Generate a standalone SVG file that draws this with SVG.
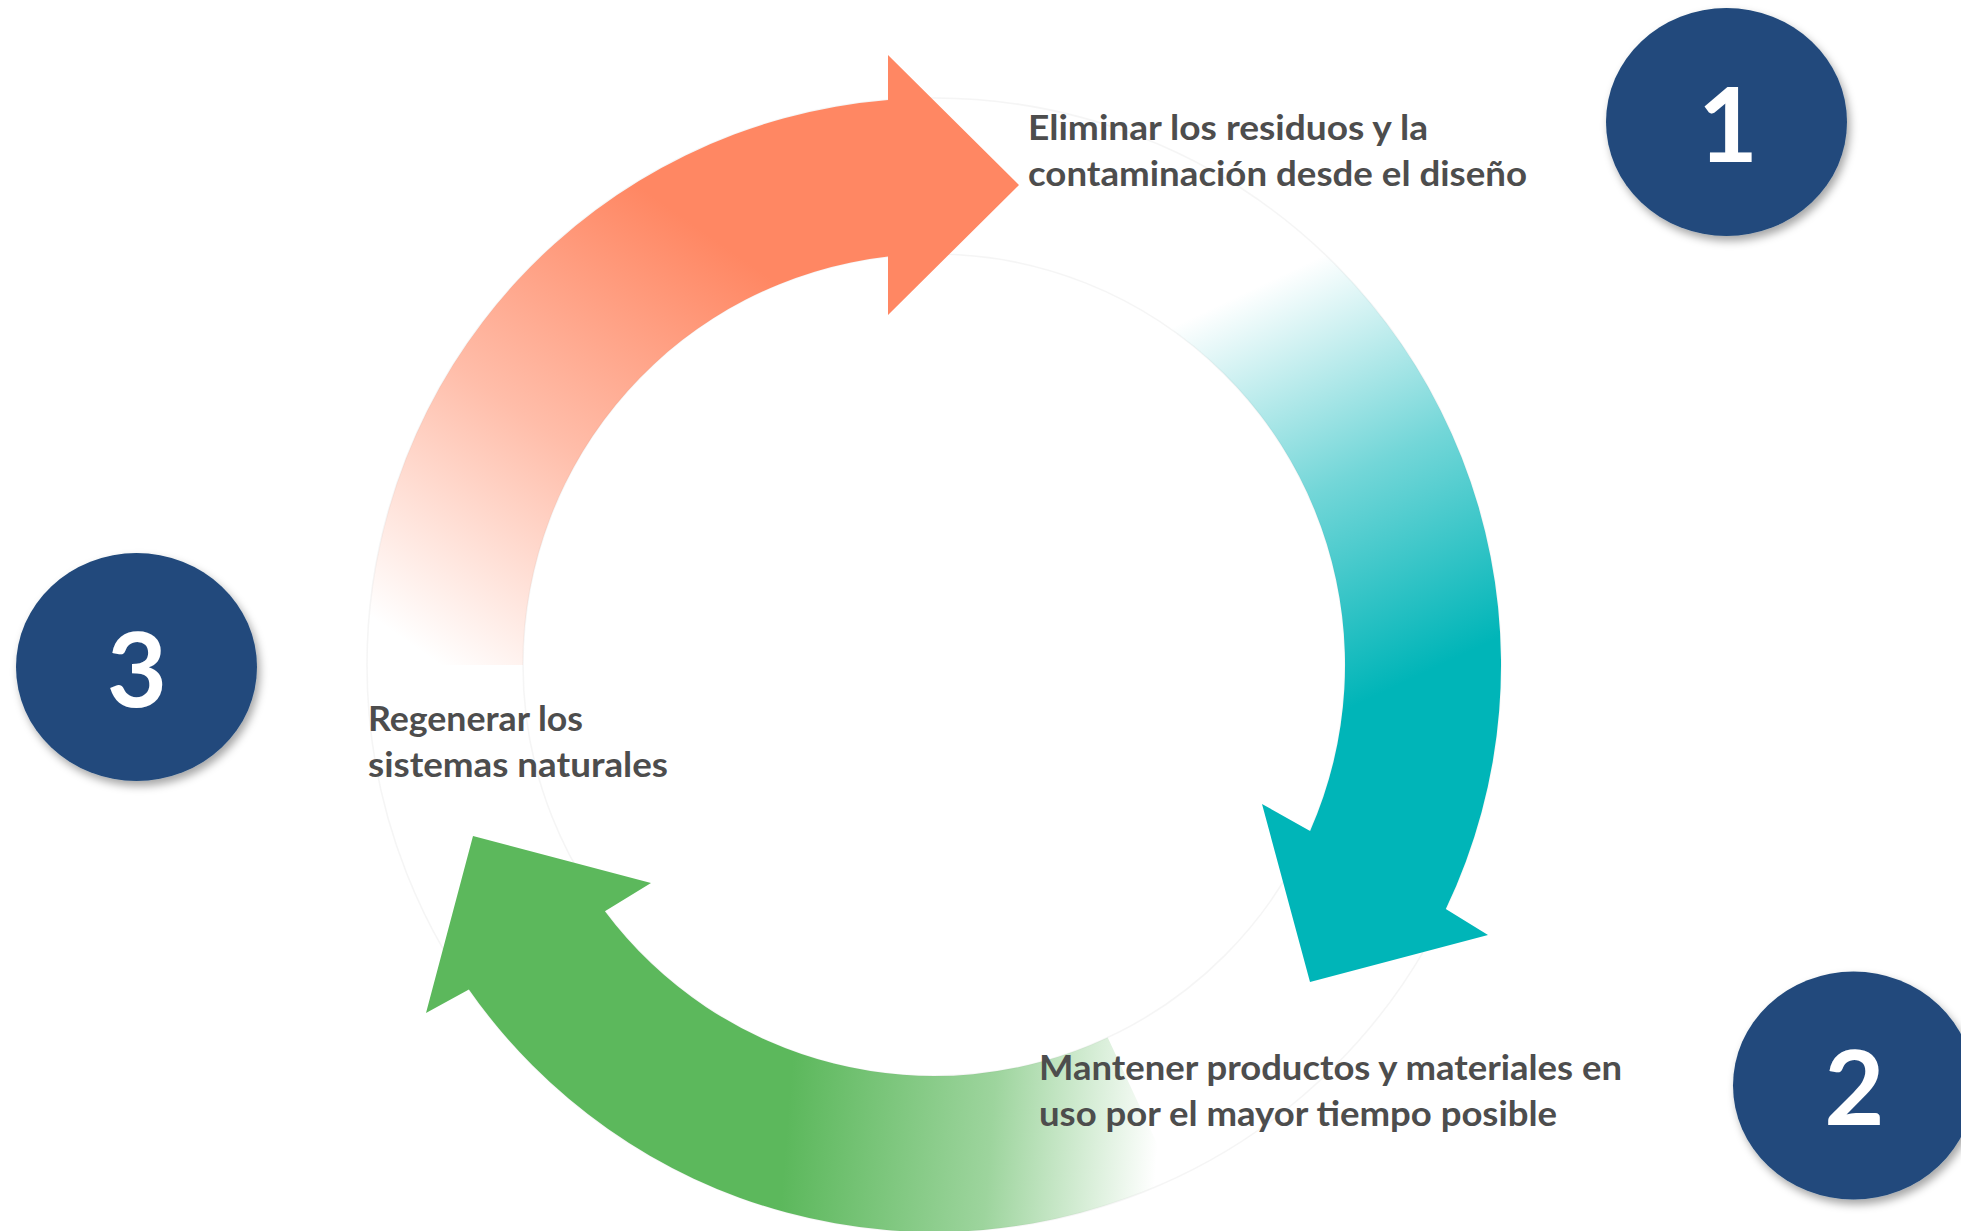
<svg xmlns="http://www.w3.org/2000/svg" width="1961" height="1231" viewBox="0 0 1961 1231">
  <defs>
    <style>
      .lbl { font-family: Lato, "Noto Sans", "Liberation Sans", sans-serif; font-weight: 700; font-size: 34px; fill: #4d4d4d; }
      .num { font-family: Lato, "Noto Sans", "Liberation Sans", sans-serif; font-weight: 700; font-size: 104px; fill: #ffffff; text-anchor: middle; }
      .badge { fill: #214a7b; filter: url(#shadow); }
      .ghost { fill: none; stroke: #ececec; stroke-width: 1.5; opacity: 0.5; }
    </style>
    <filter id="shadow" x="-20%" y="-20%" width="140%" height="150%">
      <feDropShadow dx="3" dy="5" stdDeviation="4" flood-color="#000000" flood-opacity="0.35"/>
    </filter>
    <linearGradient id="gOrange" gradientUnits="userSpaceOnUse" x1="390" y1="630" x2="680" y2="215">
      <stop offset="0" stop-color="#ff8763" stop-opacity="0"/>
      <stop offset="0.5" stop-color="#ff8763" stop-opacity="0.55"/>
      <stop offset="1" stop-color="#ff8763" stop-opacity="1"/>
    </linearGradient>
    <linearGradient id="gTeal" gradientUnits="userSpaceOnUse" x1="1250" y1="290" x2="1430" y2="670">
      <stop offset="0" stop-color="#00b5b8" stop-opacity="0"/>
      <stop offset="0.5" stop-color="#00b5b8" stop-opacity="0.55"/>
      <stop offset="1" stop-color="#00b5b8" stop-opacity="1"/>
    </linearGradient>
    <linearGradient id="gGreen" gradientUnits="userSpaceOnUse" x1="1160" y1="1120" x2="790" y2="1090">
      <stop offset="0" stop-color="#5cb85c" stop-opacity="0"/>
      <stop offset="0.45" stop-color="#5cb85c" stop-opacity="0.6"/>
      <stop offset="1" stop-color="#5cb85c" stop-opacity="1"/>
    </linearGradient>
  </defs>

  <rect width="1961" height="1231" fill="#ffffff"/>

  <g id="connectors">
    <circle class="ghost" cx="934" cy="665" r="567"/>
    <circle class="ghost" cx="934" cy="665" r="411"/>
    <path id="arrow-orange" fill="url(#gOrange)" d="M 367 665 A 567 567 0 0 1 888 100 L 888 55 L 1019 185 L 888 315 L 888 256.6 A 411 411 0 0 0 523 665 Z"/>
    <path id="arrow-teal" fill="url(#gTeal)" d="M 1234.5 184.2 A 567 567 0 0 1 1445.8 909.1 L 1488 935 L 1310 982 L 1262 804 L 1310.1 830.9 A 411 411 0 0 0 1151.8 316.5 Z"/>
    <path id="arrow-green" fill="url(#gGreen)" d="M 1173.6 1178.9 A 567 567 0 0 1 468.9 989.4 L 426 1013 L 473 836 L 651 883 L 604.9 911.2 A 411 411 0 0 0 1107.7 1037.5 Z"/>
  </g>

  <g id="label-1">
    <text class="lbl" x="1028" y="140" textLength="400" lengthAdjust="spacingAndGlyphs">Eliminar los residuos y la</text>
    <text class="lbl" x="1028" y="186" textLength="499" lengthAdjust="spacingAndGlyphs">contaminación desde el diseño</text>
  </g>
  <g id="label-2">
    <text class="lbl" x="1039" y="1080" textLength="583" lengthAdjust="spacingAndGlyphs">Mantener productos y materiales en</text>
    <text class="lbl" x="1039" y="1126" textLength="518" lengthAdjust="spacingAndGlyphs">uso por el mayor tiempo posible</text>
  </g>
  <g id="label-3">
    <text class="lbl" x="368" y="731" textLength="215" lengthAdjust="spacingAndGlyphs">Regenerar los</text>
    <text class="lbl" x="368" y="777" textLength="300" lengthAdjust="spacingAndGlyphs">sistemas naturales</text>
  </g>

  <g id="node-1">
    <ellipse class="badge" cx="1726.5" cy="122" rx="120.5" ry="114"/>
    <text class="num" x="1728" y="162">1</text>
  </g>
  <g id="node-2">
    <ellipse class="badge" cx="1853.5" cy="1085.5" rx="120.5" ry="114"/>
    <text class="num" x="1854.5" y="1125">2</text>
  </g>
  <g id="node-3">
    <ellipse class="badge" cx="136.5" cy="667" rx="120.5" ry="114"/>
    <text class="num" x="137" y="707">3</text>
  </g>
</svg>
